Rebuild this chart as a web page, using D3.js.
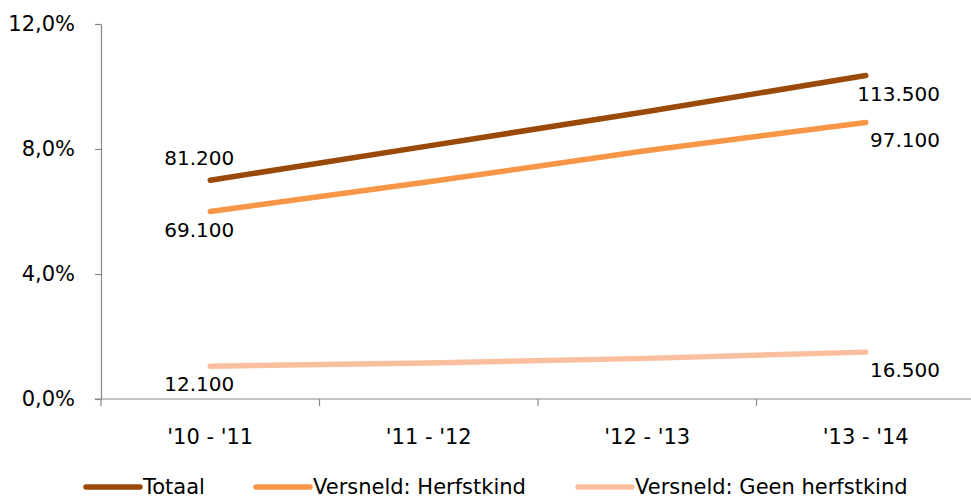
<!DOCTYPE html>
<html>
<head>
<meta charset="utf-8">
<script src="https://cdn.jsdelivr.net/npm/d3@7"></script>
<style>
  html, body { margin: 0; padding: 0; background: #fff; }
  svg { display: block; }
  text { font-family: "DejaVu Sans", sans-serif; fill: #000; }
</style>
</head>
<body>
<svg id="chart" width="971" height="500"></svg>
<script>
// ---- data ----
const categories = ["'10 - '11", "'11 - '12", "'12 - '13", "'13 - '14"];
const seriesNames = ["Totaal", "Versneld: Herfstkind", "Versneld: Geen herfstkind"];
const totaal = [7.0, 8.1, 9.2, 10.35];
const herfstkind = [6.0, 6.95, 7.95, 8.85];
const geenHerfstkind = [1.05, 1.15, 1.3, 1.5];
const totaalLabels = ["81.200", null, null, "113.500"];
const herfstkindLabels = ["69.100", null, null, "97.100"];
const geenLabels = ["12.100", null, null, "16.500"];
const yTicks = [0, 4, 8, 12];

const colors = ["#9A4A08", "#F79646", "#F9BF9F"];
const labelAbove = [true, false, false];

const series = [
  { name: seriesNames[0], values: totaal, labels: totaalLabels },
  { name: seriesNames[1], values: herfstkind, labels: herfstkindLabels },
  { name: seriesNames[2], values: geenHerfstkind, labels: geenLabels }
];

const svg = d3.select("#chart");
const mLeft = 101, mRight = 975, mTop = 24, mBottom = 399;

const x = d3.scaleBand().domain(categories).range([mLeft, mRight]).padding(0);
const y = d3.scaleLinear().domain([0, 12]).range([mBottom, mTop]);
const fmt = v => d3.format(".1f")(v).replace(".", ",") + "%";

// Y axis
const yAxis = svg.append("g")
  .attr("transform", `translate(${mLeft},0)`)
  .call(d3.axisLeft(y).tickValues(yTicks).tickFormat(fmt).tickSize(6).tickSizeOuter(0));
yAxis.select(".domain").attr("stroke", "#868686").attr("stroke-width", 1.2);
yAxis.selectAll(".tick line").attr("stroke", "#868686").attr("stroke-width", 1.2);
yAxis.selectAll(".tick text").attr("x", -26).attr("font-size", 21)
  .style("font-family", "DejaVu Sans, sans-serif").attr("fill", "#000");

// X axis
const xAxis = svg.append("g")
  .attr("transform", `translate(0,${mBottom})`)
  .call(d3.axisBottom(x).tickSize(0).tickSizeOuter(0));
xAxis.select(".domain").attr("stroke", "#868686").attr("stroke-width", 1.2)
  .attr("d", `M${mLeft - 6},0H${mRight}`);
xAxis.selectAll(".tick text").attr("y", 38).attr("dy", "0").attr("font-size", 21)
  .style("font-family", "DejaVu Sans, sans-serif").attr("fill", "#000")
  .attr("dominant-baseline", "central");
// boundary ticks between categories
const bounds = categories.map(c => x(c)).concat([mRight]);
svg.append("g").selectAll("line").data(bounds).join("line")
  .attr("x1", d => d).attr("x2", d => d)
  .attr("y1", mBottom).attr("y2", mBottom + 7)
  .attr("stroke", "#868686").attr("stroke-width", 1.2);

// lines
const line = d3.line()
  .x((d, i) => x(categories[i]) + x.bandwidth() / 2)
  .y(d => y(d));

series.forEach((s, si) => {
  svg.append("path")
    .datum(s.values)
    .attr("fill", "none")
    .attr("stroke", colors[si])
    .attr("stroke-width", 5.5)
    .attr("stroke-linecap", "round")
    .attr("stroke-linejoin", "round")
    .attr("d", line);
});

// data labels
series.forEach((s, si) => {
  s.values.forEach((v, i) => {
    const lab = s.labels[i];
    if (!lab) return;
    const cx = x(categories[i]) + x.bandwidth() / 2;
    const cy = y(v);
    const isLast = i === categories.length - 1;
    const t = svg.append("text")
      .attr("font-size", 20)
      .attr("dominant-baseline", "central")
      .text(lab);
    if (isLast) {
      t.attr("x", 940).attr("text-anchor", "end");
    } else {
      t.attr("x", cx - 11).attr("text-anchor", "middle");
    }
    t.attr("y", labelAbove[si] && !isLast ? cy - 22 : cy + 18);
  });
});

// legend
const legendX = [86, 256, 578];
const lg = svg.append("g");
series.forEach((s, si) => {
  const g = lg.append("g").attr("transform", `translate(${legendX[si]},487)`);
  g.append("line").attr("x1", 0).attr("x2", 54).attr("y1", 0).attr("y2", 0)
    .attr("stroke", colors[si]).attr("stroke-width", 5.5).attr("stroke-linecap", "round");
  g.append("text").attr("x", 57).attr("y", 0).attr("font-size", 21)
    .attr("dominant-baseline", "central").text(s.name);
});
</script>
</body>
</html>
